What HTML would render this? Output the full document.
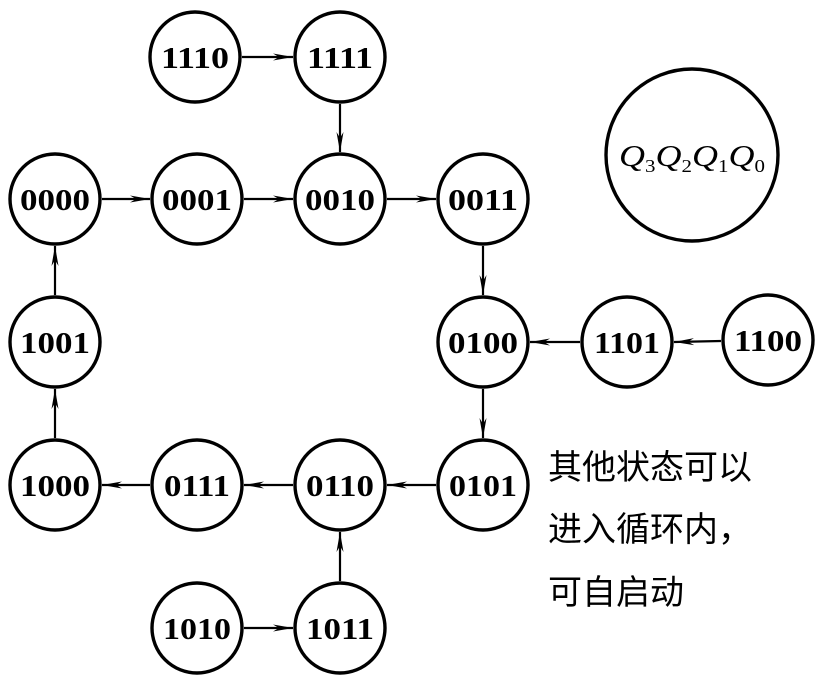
<!DOCTYPE html>
<html><head><meta charset="utf-8"><style>
html,body{margin:0;padding:0;background:#fff;}
svg{display:block}
</style></head><body>
<svg width="827" height="682" viewBox="0 0 827 682" xmlns="http://www.w3.org/2000/svg">
<defs>
<marker id="a" viewBox="0 0 20 10" refX="20" refY="5" markerWidth="20" markerHeight="10" markerUnits="userSpaceOnUse" orient="auto">
<path d="M0,1.5 L20,5 L0,8.5 L6,5 Z" fill="#000"/>
</marker>
</defs>
<g fill="#fff" stroke="#000" stroke-width="3.4">
<circle cx="195" cy="57" r="45"/>
<circle cx="340" cy="57" r="45"/>
<circle cx="55" cy="199" r="45"/>
<circle cx="197" cy="199" r="45"/>
<circle cx="340" cy="199" r="45"/>
<circle cx="483" cy="199" r="45"/>
<circle cx="55" cy="342" r="45"/>
<circle cx="483" cy="342" r="45"/>
<circle cx="627" cy="342" r="45"/>
<circle cx="768" cy="340" r="45"/>
<circle cx="55" cy="485" r="45"/>
<circle cx="197" cy="485" r="45"/>
<circle cx="340" cy="485" r="45"/>
<circle cx="483" cy="485" r="45"/>
<circle cx="197" cy="628" r="45"/>
<circle cx="340" cy="628" r="45"/>
<circle cx="692" cy="155" r="86"/>
</g>
<g stroke="#000" stroke-width="2.2" marker-end="url(#a)">
<line x1="242" y1="57" x2="293" y2="57"/>
<line x1="340" y1="104" x2="340" y2="152"/>
<line x1="102" y1="199" x2="150" y2="199"/>
<line x1="244" y1="199" x2="293" y2="199"/>
<line x1="387" y1="199" x2="436" y2="199"/>
<line x1="483" y1="246" x2="483" y2="295"/>
<line x1="721" y1="341" x2="674" y2="342"/>
<line x1="580" y1="342" x2="530" y2="342"/>
<line x1="483" y1="389" x2="483" y2="438"/>
<line x1="436" y1="485" x2="387" y2="485"/>
<line x1="293" y1="485" x2="244" y2="485"/>
<line x1="150" y1="485" x2="102" y2="485"/>
<line x1="55" y1="438" x2="55" y2="389"/>
<line x1="55" y1="295" x2="55" y2="246"/>
<line x1="244" y1="628" x2="293" y2="628"/>
<line x1="340" y1="581" x2="340" y2="532"/>
</g>
<g font-family="Liberation Serif, serif" font-weight="bold" font-size="31" text-anchor="middle" fill="#000">
<text x="195" y="68" textLength="68" lengthAdjust="spacingAndGlyphs">1110</text>
<text x="340" y="68" textLength="66" lengthAdjust="spacingAndGlyphs">1111</text>
<text x="55" y="210" textLength="70" lengthAdjust="spacingAndGlyphs">0000</text>
<text x="197" y="210" textLength="70" lengthAdjust="spacingAndGlyphs">0001</text>
<text x="340" y="210" textLength="70" lengthAdjust="spacingAndGlyphs">0010</text>
<text x="483" y="210" textLength="70" lengthAdjust="spacingAndGlyphs">0011</text>
<text x="55" y="353" textLength="70" lengthAdjust="spacingAndGlyphs">1001</text>
<text x="483" y="353" textLength="70" lengthAdjust="spacingAndGlyphs">0100</text>
<text x="627" y="353" textLength="66" lengthAdjust="spacingAndGlyphs">1101</text>
<text x="768" y="351" textLength="68" lengthAdjust="spacingAndGlyphs">1100</text>
<text x="55" y="496" textLength="70" lengthAdjust="spacingAndGlyphs">1000</text>
<text x="197" y="496" textLength="66" lengthAdjust="spacingAndGlyphs">0111</text>
<text x="340" y="496" textLength="68" lengthAdjust="spacingAndGlyphs">0110</text>
<text x="483" y="496" textLength="68" lengthAdjust="spacingAndGlyphs">0101</text>
<text x="197" y="639" textLength="68" lengthAdjust="spacingAndGlyphs">1010</text>
<text x="340" y="639" textLength="68" lengthAdjust="spacingAndGlyphs">1011</text>
</g>
<text x="692" y="166" text-anchor="middle" font-family="Liberation Serif, serif" font-style="italic" font-size="31" fill="#000" textLength="146" lengthAdjust="spacingAndGlyphs">Q<tspan font-size="18" font-style="normal" dy="6">3</tspan><tspan dy="-6">Q</tspan><tspan font-size="18" font-style="normal" dy="6">2</tspan><tspan dy="-6">Q</tspan><tspan font-size="18" font-style="normal" dy="6">1</tspan><tspan dy="-6">Q</tspan><tspan font-size="18" font-style="normal" dy="6">0</tspan></text>
<g font-family="Liberation Sans, Noto Sans CJK SC, sans-serif" font-size="34" fill="#000">
<text x="548" y="479">其他状态可以</text>
<text x="548" y="541">进入循环内，</text>
<text x="548" y="604">可自启动</text>
</g>
</svg>
</body></html>
